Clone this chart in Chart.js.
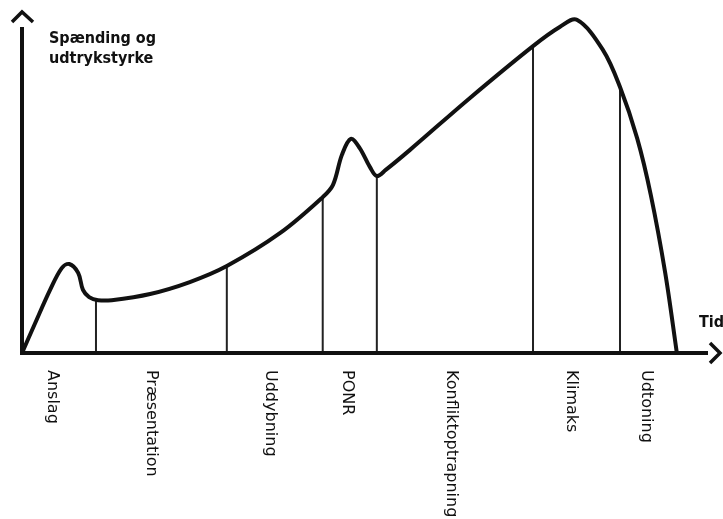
<!DOCTYPE html>
<html lang="da">
<head>
<meta charset="UTF-8">
<title>Spænding og udtrykstyrke</title>
<script src="https://cdn.jsdelivr.net/npm/chart.js"></script>
<style>
    body { margin: 0; background: #fff; }
    .chart-container { width: 723px; height: 519px; position: relative; }
</style>
</head>
<body>
<div class="chart-container">
    <canvas id="graf"></canvas>
</div>
<script>
// Kurven (tid 0-100, spænding 0-100)
const kurveTid = [0, 1.8, 4.1, 5.8, 6.9, 8.2, 8.9, 9.8, 11.1, 13.1, 18.7, 24.5, 29.9, 37.7, 43.9, 45.4, 46.7, 48.0, 49.3, 50.8, 51.8, 53.1, 56.6, 65.4, 74.6, 78.5, 81.0, 84.8, 87.3, 89.8, 91.8, 93.9, 95.6];
const kurveSpaending = [0, 8.2, 18.5, 24.9, 26.1, 23.5, 18.5, 16.4, 15.5, 15.5, 17.3, 20.8, 25.5, 35.2, 45.7, 49.3, 58.1, 62.8, 60.1, 54.5, 51.9, 53.7, 59.5, 74.8, 90.0, 95.6, 97.7, 88.9, 78.0, 63.0, 46.3, 23.5, 0];

// Skillelinjer mellem faserne
const skilleTid = [10.8, 29.9, 43.9, 51.8, 74.6, 87.3];
const skilleTop = [15.5, 25.5, 45.7, 51.9, 90.0, 78.0];

// Faser under tidsaksen
const faser = ['Anslag', 'Præsentation', 'Uddybning', 'PONR', 'Konfliktoptrapning', 'Klimaks', 'Udtoning'];
const faseTid = [4.4, 18.8, 36.2, 47.4, 62.6, 80.1, 91.1];

const kurve = kurveTid.map((x, i) => ({ x: x, y: kurveSpaending[i] }));

// lodrette linjer: to punkter pr. linje, brudt af null
const skillelinjer = [];
skilleTid.forEach((x, i) => {
    skillelinjer.push({ x: x, y: 0 });
    skillelinjer.push({ x: x, y: skilleTop[i] });
    skillelinjer.push({ x: x, y: null });
});

const tegnAkser = {
    id: 'tegnAkser',
    afterDatasetsDraw(chart) {
        const ctx = chart.ctx;
        const sx = chart.scales.x, sy = chart.scales.y;
        const x0 = sx.getPixelForValue(0);
        const y0 = sy.getPixelForValue(0);
        ctx.save();
        ctx.strokeStyle = '#111';
        ctx.lineCap = 'butt';
        ctx.lineJoin = 'miter';
        ctx.lineWidth = 4;

        // akser
        ctx.beginPath();
        ctx.moveTo(x0, 27);
        ctx.lineTo(x0, y0);
        ctx.lineTo(708, y0);
        ctx.stroke();

        // pilespidser
        ctx.lineWidth = 3.5;
        ctx.beginPath();
        ctx.moveTo(x0 - 10, 22);
        ctx.lineTo(x0, 12);
        ctx.lineTo(x0 + 11, 22);
        ctx.stroke();
        ctx.beginPath();
        ctx.moveTo(710, y0 - 10);
        ctx.lineTo(720, y0);
        ctx.lineTo(710, y0 + 10);
        ctx.stroke();

        // aksetitler
        ctx.fillStyle = '#111';
        ctx.font = 'bold 16px "DejaVu Sans Condensed"';
        ctx.textAlign = 'left';
        ctx.textBaseline = 'alphabetic';
        ctx.fillText('Spænding og', 49, 43);
        ctx.fillText('udtrykstyrke', 49, 63);
        ctx.fillText('Tid', 699, 327);

        // faser, roteret med uret
        ctx.font = '16px "DejaVu Sans"';
        ctx.textBaseline = 'middle';
        faser.forEach((navn, i) => {
            const px = sx.getPixelForValue(faseTid[i]);
            ctx.save();
            ctx.translate(px, 370);
            ctx.rotate(Math.PI / 2);
            ctx.fillText(navn, 0, 0);
            ctx.restore();
        });
        ctx.restore();
    }
};

new Chart(document.getElementById('graf'), {
    type: 'line',
    data: {
        datasets: [
            {
                label: 'Spænding',
                data: kurve,
                borderColor: '#111',
                borderWidth: 4,
                pointRadius: 0,
                tension: 0.35,
                fill: false
            },
            {
                label: 'Skift',
                data: skillelinjer,
                borderColor: '#222',
                borderWidth: 2,
                pointRadius: 0,
                tension: 0,
                spanGaps: false,
                fill: false
            }
        ]
    },
    options: {
        responsive: true,
        maintainAspectRatio: false,
        animation: false,
        layout: { padding: { left: 22, right: 16, top: 12, bottom: 166 } },
        scales: {
            x: { type: 'linear', min: 0, max: 100, display: false },
            y: { min: 0, max: 100, display: false }
        },
        plugins: {
            legend: { display: false },
            tooltip: { enabled: false }
        }
    },
    plugins: [tegnAkser]
});
</script>
</body>
</html>
